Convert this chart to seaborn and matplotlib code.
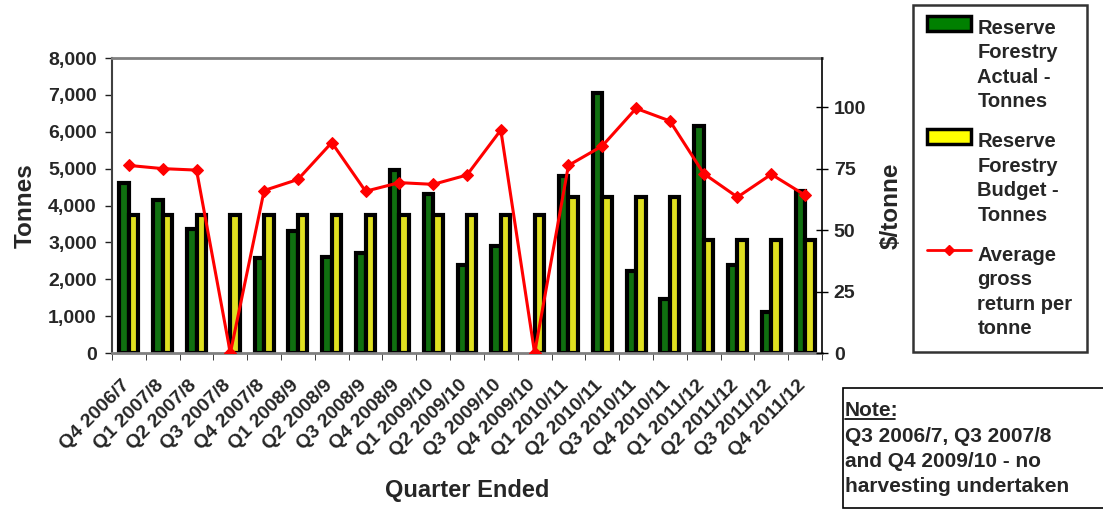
import numpy as np
import pandas as pd
import matplotlib
matplotlib.use("Agg")
import matplotlib.pyplot as plt
from matplotlib.patches import Patch, Rectangle
from matplotlib.lines import Line2D
from matplotlib.ticker import FuncFormatter
from matplotlib.transforms import ScaledTranslation
from matplotlib.legend_handler import HandlerPatch, HandlerLine2D
import seaborn as sns

quarters = ["Q4 2006/7", "Q1 2007/8", "Q2 2007/8", "Q3 2007/8", "Q4 2007/8",
            "Q1 2008/9", "Q2 2008/9", "Q3 2008/9", "Q4 2008/9", "Q1 2009/10",
            "Q2 2009/10", "Q3 2009/10", "Q4 2009/10", "Q1 2010/11", "Q2 2010/11",
            "Q3 2010/11", "Q4 2010/11", "Q1 2011/12", "Q2 2011/12", "Q3 2011/12",
            "Q4 2011/12"]
actual = [4600, 4150, 3350, 0, 2580, 3300, 2600, 2700, 4950, 4300,
          2400, 2900, 0, 4800, 7050, 2230, 1460, 6150, 2400, 1120, 4380]
budget = [3750, 3750, 3750, 3750, 3750, 3750, 3750, 3750, 3750, 3750,
          3750, 3750, 3750, 4225, 4225, 4225, 4225, 3075, 3075, 3075, 3075]
avg_return = [76.3, 75.0, 74.4, 0, 66.1, 70.6, 85.6, 65.8, 69.3, 68.6,
              72.4, 90.7, 0, 76.3, 84.2, 99.5, 94.4, 73.0, 63.4, 72.7, 64.2]

lab_actual = "Reserve\nForestry\nActual -\nTonnes"
lab_budget = "Reserve\nForestry\nBudget -\nTonnes"
lab_return = "Average\ngross\nreturn per\ntonne"
note_lines = ["Q3 2006/7, Q3 2007/8", "and Q4 2009/10 - no", "harvesting undertaken"]

sns.set_style("white")
plt.rcParams["font.family"] = ["Liberation Sans", "DejaVu Sans"]
plt.rcParams["font.weight"] = "bold"

df = pd.DataFrame({"quarter": quarters * 2,
                   "tonnes": actual + budget,
                   "series": [lab_actual] * len(quarters) + [lab_budget] * len(quarters)})

W, H = 1103, 514
fig = plt.figure(figsize=(W / 100, H / 100), dpi=100)
ax = fig.add_axes([112 / W, 1 - 353 / H, 710 / W, 295 / H])

sns.barplot(data=df, x="quarter", y="tonnes", hue="series",
            palette=["#008000", "#FFFF00"], edgecolor="black", linewidth=3,
            width=0.56, ax=ax, legend=False)
for bar in ax.patches:
    if bar.get_height() == 0:
        bar.set_linewidth(0)
ax.set_ylim(0, 8000)
ax.set_yticks(range(0, 8001, 1000))
ax.yaxis.set_major_formatter(FuncFormatter(lambda v, p: f"{int(v):,}"))
ax.tick_params(axis="y", direction="out", length=5, width=1, color="#202020",
               labelsize=14, left=True, pad=6)
ax.set_xticks(range(len(quarters)))
ax.set_xticks(np.arange(-0.5, len(quarters)), minor=True)
ax.tick_params(axis="x", which="major", length=0, pad=17)
ax.tick_params(axis="x", which="minor", direction="out", length=5, color="#202020",
               bottom=True)
ax.set_xticklabels(quarters, rotation=45, ha="right", va="top",
                   rotation_mode="anchor", fontsize=14, fontweight="bold")
shift = ScaledTranslation(-0.08, 0, fig.dpi_scale_trans)
for lbl in ax.get_xticklabels():
    lbl.set_transform(lbl.get_transform() + shift)
ax.set_ylabel("Tonnes", fontsize=17.5, fontweight="bold", labelpad=8)
ax.set_xlabel("Quarter Ended", fontsize=17, fontweight="bold", va="center")
ax.xaxis.set_label_coords(0.5, (353 - 491) / 295)
for s in ["top", "bottom"]:
    ax.spines[s].set_color("#808080")
    ax.spines[s].set_linewidth(2)
ax.spines["left"].set_color("#404040")
ax.spines["left"].set_linewidth(1.5)
ax.spines["right"].set_visible(False)

ax2 = ax.twinx()
sns.lineplot(x=np.arange(len(quarters)), y=avg_return, ax=ax2, color="red",
             linewidth=2.2, marker="D", markersize=6.5, markeredgecolor="red")
ax2.set_ylim(0, 120)
ax2.set_yticks([0, 25, 50, 75, 100])
ax2.tick_params(axis="y", direction="inout", length=9, width=1, color="black",
                labelsize=14, right=True, pad=4)
ax2.set_ylabel(r"\$/tonne", fontsize=17.5, fontweight="bold", labelpad=10)
for s in ["top", "bottom", "left"]:
    ax2.spines[s].set_visible(False)
ax2.spines["right"].set_color("black")
ax2.spines["right"].set_linewidth(1.2)
ax.set_xlim(-0.5, len(quarters) - 0.5)

# legend: multi-line labels with the key drawn level with the first line
LEG_FS = 14.5
LEG_LS = 1.36
UP = 30.5  # lift of the key up to the first text line


class TopPatch(HandlerPatch):
    def create_artists(self, legend, orig_handle, xdescent, ydescent,
                       width, height, fontsize, trans):
        p = Rectangle((-xdescent, -ydescent + UP), width, height)
        self.update_prop(p, orig_handle, legend)
        p.set_transform(trans)
        return [p]


class TopLine(HandlerLine2D):
    def create_artists(self, legend, orig_handle, xdescent, ydescent,
                       width, height, fontsize, trans):
        arts = super().create_artists(legend, orig_handle, xdescent, ydescent,
                                      width, height, fontsize, trans)
        for a in arts:
            a.set_ydata(np.asarray(a.get_ydata(), dtype=float) + UP)
        return arts


h_act = Patch(facecolor="#008000", edgecolor="black", linewidth=2.5)
h_bud = Patch(facecolor="#FFFF00", edgecolor="black", linewidth=2.5)
h_ret = Line2D([0], [0], color="red", linewidth=2, marker="D", markersize=5)
leg = fig.legend([h_act, h_bud, h_ret], [lab_actual, lab_budget, lab_return],
                 handler_map={h_act: TopPatch(), h_bud: TopPatch(), h_ret: TopLine()},
                 loc="upper left", bbox_to_anchor=(913 / W, 1 - 5 / H),
                 fontsize=LEG_FS, frameon=True, fancybox=False, handlelength=2.2,
                 handleheight=0.75, labelspacing=1.05, borderpad=0.7,
                 handletextpad=0.3, borderaxespad=0)
leg.get_frame().set_edgecolor("black")
leg.get_frame().set_linewidth(1.8)
for t in leg.get_texts():
    t.set_linespacing(LEG_LS)

# note box
fig.add_artist(Rectangle((843 / W, 1 - 508 / H), 280 / W, 120 / H,
                         transform=fig.transFigure, facecolor="white",
                         edgecolor="black", linewidth=1.2))
fig.text(845 / W, 1 - 416 / H, "Note:", fontsize=15, fontweight="bold",
         va="baseline", ha="left")
fig.add_artist(Line2D([845 / W, 895 / W], [1 - 419 / H, 1 - 419 / H],
                      transform=fig.transFigure, color="black", linewidth=1.2))
for i, line in enumerate(note_lines):
    fig.text(845 / W, 1 - (442 + 25 * i) / H, line, fontsize=15,
             fontweight="bold", va="baseline", ha="left")

fig.savefig("out.png", dpi=100)
